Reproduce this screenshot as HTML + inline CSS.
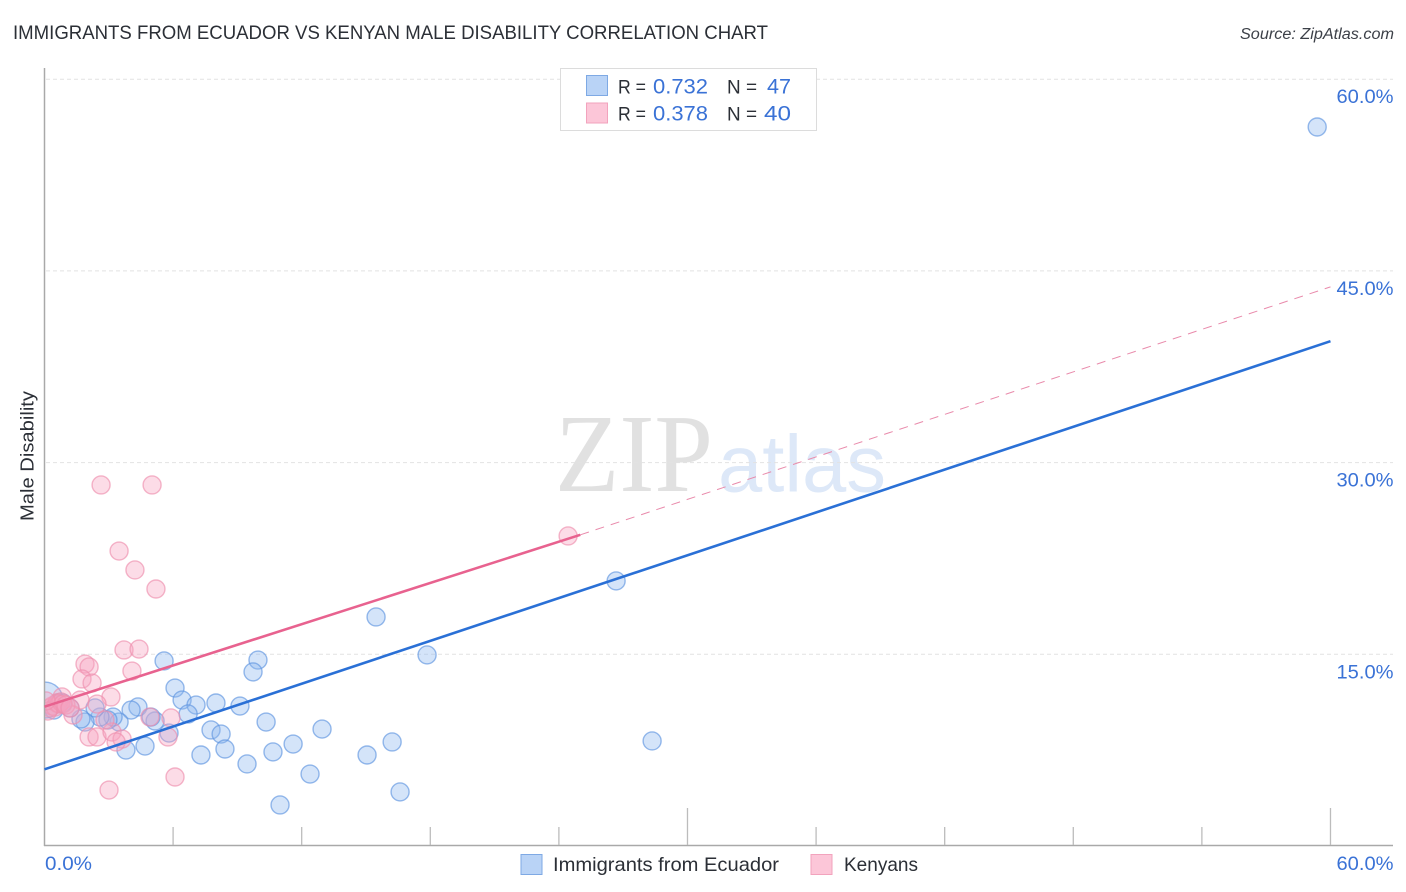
<!DOCTYPE html>
<html lang="en">
<head>
<meta charset="utf-8">
<title>Immigrants from Ecuador vs Kenyan Male Disability Correlation Chart</title>
<style>
html,body{margin:0;padding:0;background:#fff;width:1406px;height:892px;overflow:hidden}
svg{display:block}
text{font-family:"Liberation Sans",sans-serif}
</style>
</head>
<body>
<svg id="chart" xmlns="http://www.w3.org/2000/svg" width="1406" height="892" viewBox="0 0 1406 892">
  <text x="13" y="39" font-size="19.5" fill="#2b2f36" textLength="755" lengthAdjust="spacingAndGlyphs">IMMIGRANTS FROM ECUADOR VS KENYAN MALE DISABILITY CORRELATION CHART</text>
  <text x="1394" y="39" font-size="15.5" font-style="italic" fill="#3c4048" text-anchor="end" textLength="154" lengthAdjust="spacingAndGlyphs">Source: ZipAtlas.com</text>

  <g>
    <text x="555" y="491" font-size="111" fill="#e1e1e1" textLength="158" lengthAdjust="spacingAndGlyphs" style="font-family:'Liberation Serif',serif">ZIP</text>
    <text x="718" y="491.5" font-size="81" fill="#dde8f8" textLength="168" lengthAdjust="spacingAndGlyphs">atlas</text>
  </g>

  <g id="grid"></g>
  <g id="points"></g>
  <rect x="0" y="60" width="44.5" height="790" fill="#fff"/>
  <g id="axes"></g>
  <g id="trends"></g>
  <g id="labels"></g>

  <text transform="translate(33.5 456) rotate(-90)" font-size="18.5" fill="#2b2f36" text-anchor="middle" textLength="130" lengthAdjust="spacingAndGlyphs">Male Disability</text>

  <g>
    <rect x="560.5" y="68.5" width="256" height="62" fill="#fff" stroke="#dcdcdc" stroke-width="1"/>
    <rect x="586.5" y="75.5" width="21" height="20" fill="#b9d3f6" stroke="#7ea9e4" stroke-width="1"/>
    <rect x="586.5" y="103" width="21" height="20" fill="#fcc6d8" stroke="#f2a3bd" stroke-width="1"/>
    <text x="618" y="93.5" font-size="19.5" fill="#2b2f36" textLength="28" lengthAdjust="spacingAndGlyphs">R =</text>
    <text x="653" y="93.5" font-size="21" fill="#3a72d6" textLength="55" lengthAdjust="spacingAndGlyphs">0.732</text>
    <text x="727" y="93.5" font-size="19.5" fill="#2b2f36" textLength="30" lengthAdjust="spacingAndGlyphs">N =</text>
    <text x="767" y="93.5" font-size="21" fill="#3a72d6" textLength="24" lengthAdjust="spacingAndGlyphs">47</text>
    <text x="618" y="120.5" font-size="19.5" fill="#2b2f36" textLength="28" lengthAdjust="spacingAndGlyphs">R =</text>
    <text x="653" y="120.5" font-size="21" fill="#3a72d6" textLength="55" lengthAdjust="spacingAndGlyphs">0.378</text>
    <text x="727" y="120.5" font-size="19.5" fill="#2b2f36" textLength="30" lengthAdjust="spacingAndGlyphs">N =</text>
    <text x="764" y="120.5" font-size="21" fill="#3a72d6" textLength="27" lengthAdjust="spacingAndGlyphs">40</text>
  </g>

  <g>
    <rect x="521" y="854.5" width="21" height="20" fill="#b9d3f6" stroke="#7ea9e4" stroke-width="1"/>
    <text x="553" y="871" font-size="19.5" fill="#2b2f36" textLength="226" lengthAdjust="spacingAndGlyphs">Immigrants from Ecuador</text>
    <rect x="811" y="854.5" width="21" height="20" fill="#fcc6d8" stroke="#f2a3bd" stroke-width="1"/>
    <text x="844" y="871" font-size="19.5" fill="#2b2f36" textLength="74" lengthAdjust="spacingAndGlyphs">Kenyans</text>
  </g>
</svg>

<script>
const blueX = [59.38,26.67,28.35,15.47,17.85,5.58,9.96,9.73,6.09,6.42,7.07,8.00,9.12,6.70,4.36,4.04,10.34,12.95,7.77,8.24,8.42,11.60,10.66,7.30,9.45,12.39,15.05,16.22,16.59,10.99,3.80,4.69,5.81,5.16,4.97,3.48,3.20,2.96,2.59,2.36,1.89,1.70,0.44,0.02,0.63,1.19,0.86];
const blueY = [56.26,20.74,8.22,17.92,14.95,14.48,14.55,13.62,12.36,11.42,11.03,11.19,10.95,10.33,10.88,10.64,9.70,9.15,9.08,8.76,7.59,7.98,7.36,7.12,6.42,5.63,7.12,8.14,4.23,3.21,7.51,7.82,8.84,9.78,10.09,9.70,10.09,9.86,10.09,10.80,9.70,9.94,10.64,11.42,11.19,10.80,11.19];
const blueWeight = [1,1,1,1,1,1,1,1,1,1,1,1,1,1,1,1,1,1,1,1,1,1,1,1,1,1,1,1,1,1,1,1,1,1,1,1,1,1,1,1,1,1,1,4,1,1,1];
const pinkX = [24.43,2.64,5.02,3.48,4.22,5.20,3.71,4.41,1.89,2.08,1.75,2.22,4.08,3.10,2.45,1.66,0.82,5.90,4.92,2.08,2.45,3.15,3.62,3.34,5.76,6.09,3.01,1.33,2.82,0.26,0.35,0.49,0.58,0.68,0.77,0.86,1.00,1.19,0.16,0.07];
const pinkY = [24.26,28.25,28.25,23.08,21.60,20.11,15.34,15.41,14.24,14.01,13.07,12.75,13.69,11.66,11.11,11.42,11.66,10.02,10.09,8.53,8.53,8.92,8.37,8.14,8.53,5.40,4.38,10.25,9.86,10.80,10.95,10.88,11.19,11.11,11.27,11.11,11.03,10.80,10.56,11.35];
const blueTrendX = [0,60];
const blueTrendY = [6.0,39.5];
const pinkTrendX = [0,25];
const pinkTrendY = [10.9,24.35];
const pinkDashX = [25,60];
const pinkDashY = [24.35,43.75];
const xTickValues = [6,12,18,24,30,36,42,48,54,60];
const xMajorTicks = [30,60];
const yGridValues = [15,30,45,60];
const yTickLabels = ["15.0%","30.0%","45.0%","60.0%"];
const xEndValues = [0,60];
const xEndLabels = ["0.0%","60.0%"];

const NS = 'http://www.w3.org/2000/svg';
function sx(v){ return 44.5 + v * 21.433; }
function sy(v){ return 846 - v * 12.78; }
function mk(parent, tag, attrs){
  const el = document.createElementNS(NS, tag);
  for (const k in attrs) el.setAttribute(k, attrs[k]);
  parent.appendChild(el);
  return el;
}
const gridG = document.getElementById('grid');
const axesG = document.getElementById('axes');
const pointsG = document.getElementById('points');
const trendsG = document.getElementById('trends');
const labelsG = document.getElementById('labels');

yGridValues.forEach(function(v, i){
  const line = mk(gridG, 'line', {x1:46, x2:1393, y1:sy(v), y2:sy(v), stroke:'#e2e2e2', 'stroke-width':1, 'stroke-dasharray':'4 3'});
  
  
  const t = mk(labelsG, 'text', {x:1393.5, y:sy(v)+24, 'font-size':19.5, fill:'#3a72d6', 'text-anchor':'end', textLength:57, lengthAdjust:'spacingAndGlyphs'});
  t.textContent = yTickLabels[i];
  
  
});

const yAxis = mk(axesG, 'line', {x1:44.5, x2:44.5, y1:68, y2:846, stroke:'#a9a9a9', 'stroke-width':1.5});


const xAxis = mk(axesG, 'line', {x1:44, x2:1393, y1:845.5, y2:845.5, stroke:'#a9a9a9', 'stroke-width':1.5});


xTickValues.forEach(function(v){
  const top = xMajorTicks.indexOf(v) >= 0 ? 808 : 827;
  const tick = mk(axesG, 'line', {x1:sx(v), x2:sx(v), y1:top, y2:845, stroke:'#bcbcbc', 'stroke-width':1.3});
  
  
});
xEndValues.forEach(function(v, i){
  const first = i === 0;
  const t = mk(labelsG, 'text', {x: first ? 45 : 1393.5, y:870, 'font-size':19.5, fill:'#3a72d6', 'text-anchor': first ? 'start' : 'end', textLength: first ? 47 : 57, lengthAdjust:'spacingAndGlyphs'});
  t.textContent = xEndLabels[i];
  
  
});

blueX.forEach(function(v, i){
  const c = mk(pointsG, 'circle', {cx:sx(v), cy:sy(blueY[i]), r:9*Math.sqrt(blueWeight[i]), fill:'#8fb8f0', 'fill-opacity':0.38, stroke:'#5f95e0', 'stroke-opacity':0.65, 'stroke-width':1.4});
  
  
});
pinkX.forEach(function(v, i){
  const c = mk(pointsG, 'circle', {cx:sx(v), cy:sy(pinkY[i]), r:9, fill:'#f8a3bf', 'fill-opacity':0.38, stroke:'#ee8fae', 'stroke-opacity':0.65, 'stroke-width':1.4});
  
  
});

const dash = mk(trendsG, 'line', {x1:sx(pinkDashX[0]), y1:sy(pinkDashY[0]), x2:sx(pinkDashX[1]), y2:sy(pinkDashY[1]), stroke:'#e98aab', 'stroke-width':1, 'stroke-dasharray':'9 7'});


const pinkLine = mk(trendsG, 'line', {x1:sx(pinkTrendX[0]), y1:sy(pinkTrendY[0]), x2:sx(pinkTrendX[1]), y2:sy(pinkTrendY[1]), stroke:'#e8628f', 'stroke-width':2.6});


const blueLine = mk(trendsG, 'line', {x1:sx(blueTrendX[0]), y1:sy(blueTrendY[0]), x2:sx(blueTrendX[1]), y2:sy(blueTrendY[1]), stroke:'#2a70d6', 'stroke-width':2.6});


</script>
</body>
</html>
